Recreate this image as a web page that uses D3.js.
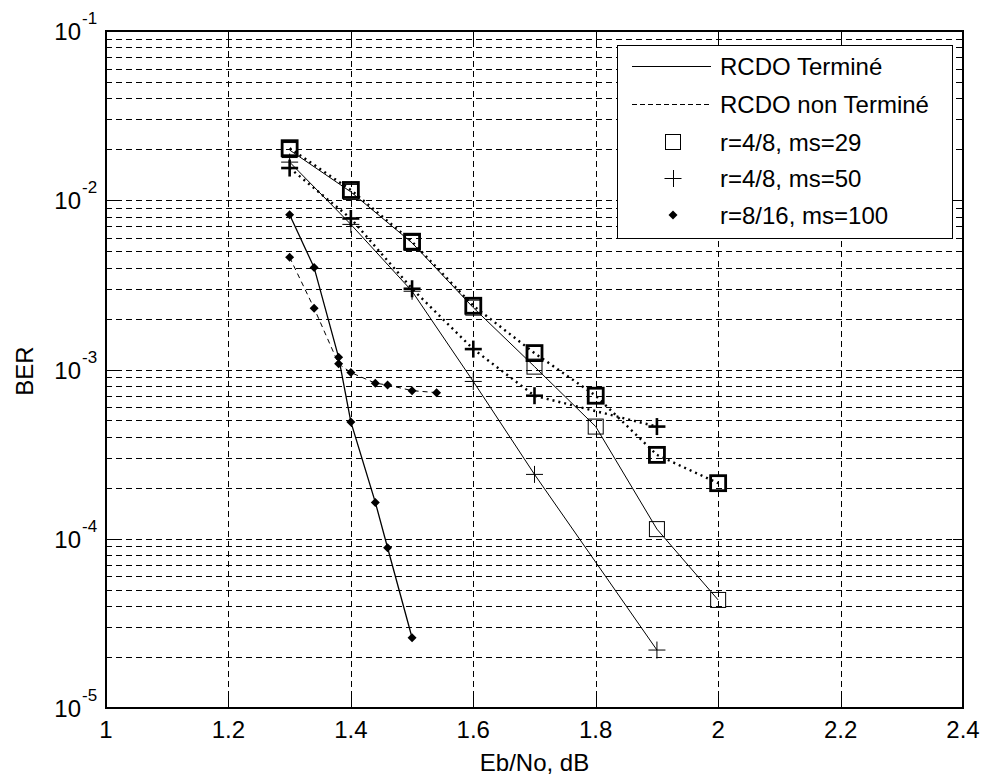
<!DOCTYPE html>
<html><head><meta charset="utf-8">
<script src="https://cdn.jsdelivr.net/npm/d3@7"></script>
<style>
html,body{margin:0;padding:0;background:#fff;}
svg{display:block;font-family:"Liberation Sans",Arial,sans-serif;}
</style></head>
<body><svg id="chart" width="982" height="775"></svg>
<script>
// ---- data ----
const xTicks = [1, 1.2, 1.4, 1.6, 1.8, 2, 2.2, 2.4];
const xTickLabels = ["1", "1.2", "1.4", "1.6", "1.8", "2", "2.2", "2.4"];
const yExponents = [-5, -4, -3, -2, -1];

const xSquare = [1.3, 1.4, 1.5, 1.6, 1.7, 1.8, 1.9, 2.0];
const squareTerm = [0.0198, 0.0112, 0.0056, 0.00232, 0.00104, 0.00046, 0.000114, 0.0000435];
const squareNon  = [0.0203, 0.0115, 0.00569, 0.00238, 0.00125, 0.0007, 0.000313, 0.000213];

const xPlus = [1.3, 1.4, 1.5, 1.6, 1.7, 1.9];
const plusTerm = [0.0168, 0.0072, 0.0029, 0.00085, 0.00024, 0.000022];
const plusNon  = [0.0155, 0.0078, 0.0030, 0.00132, 0.0007, 0.00046];

const xDiaTerm = [1.3, 1.34, 1.38, 1.4, 1.44, 1.46, 1.5];
const diaTerm  = [0.0082, 0.0040, 0.00118, 0.00049, 0.000164, 0.0000885, 0.000026];
const xDiaNon  = [1.3, 1.34, 1.38, 1.4, 1.44, 1.46, 1.5, 1.54];
const diaNon   = [0.0046, 0.0023, 0.00108, 0.00096, 0.00083, 0.00081, 0.00075, 0.00073];

const legendLabels = ["RCDO Terminé", "RCDO non Terminé", "r=4/8, ms=29", "r=4/8, ms=50", "r=8/16, ms=100"];

// ---- layout ----
const L = 106, R = 963, T = 31, B = 708;
const svg = d3.select("#chart");
const x = d3.scaleLinear().domain([1, 2.4]).range([L, R]);
const y = d3.scaleLog().domain([1e-5, 1e-1]).range([B, T]);
const px = v => Math.round(v) + 0.5;

// grid
const g = svg.append("g").attr("shape-rendering", "crispEdges");
const minorVals = [];
for (let e = -5; e <= -2; e++) for (let k = 1; k <= 9; k++) minorVals.push(k * Math.pow(10, e));
g.selectAll("line.hg").data(minorVals.filter(v => v > 1e-5)).enter().append("line")
  .attr("x1", L).attr("x2", R).attr("y1", d => px(y(d))).attr("y2", d => px(y(d)))
  .attr("stroke", "#000").attr("stroke-width", 1).attr("stroke-dasharray", "6,4");
g.selectAll("line.vg").data(xTicks.slice(1, -1)).enter().append("line")
  .attr("x1", d => px(x(d))).attr("x2", d => px(x(d))).attr("y1", T).attr("y2", B)
  .attr("stroke", "#000").attr("stroke-width", 1).attr("stroke-dasharray", "6,4");

// ticks (inward, all sides)
const tk = svg.append("g").attr("stroke", "#000").attr("stroke-width", 1).attr("shape-rendering", "crispEdges");
xTicks.forEach(v => {
  tk.append("line").attr("x1", px(x(v))).attr("x2", px(x(v))).attr("y1", B).attr("y2", B - 11);
  tk.append("line").attr("x1", px(x(v))).attr("x2", px(x(v))).attr("y1", T).attr("y2", T + 11);
});
minorVals.concat([1e-1]).forEach(v => {
  const major = Math.abs(Math.log10(v) - Math.round(Math.log10(v))) < 1e-9;
  const len = major ? 10 : 5;
  tk.append("line").attr("x1", L).attr("x2", L + len).attr("y1", px(y(v))).attr("y2", px(y(v)));
  tk.append("line").attr("x1", R).attr("x2", R - len).attr("y1", px(y(v))).attr("y2", px(y(v)));
});

// series
const line = (xs) => d3.line().x((d, i) => x(xs[i])).y(d => y(d));
function path(xs, vals, w, dash) {
  svg.append("path").datum(vals).attr("d", line(xs)).attr("fill", "none")
    .attr("stroke", "#000").attr("stroke-width", w).attr("stroke-dasharray", dash || null);
}
path(xSquare, squareTerm, 1);
path(xPlus, plusTerm, 1);
path(xDiaTerm, diaTerm, 1.3);
path(xSquare, squareNon, 2.4, "2,4");
path(xPlus, plusNon, 2.4, "2,4");
path(xDiaNon, diaNon, 1, "5,4");

function squares(xs, vals, w, s) {
  svg.append("g").selectAll("rect").data(vals).enter().append("rect")
    .attr("x", (d, i) => x(xs[i]) - s / 2).attr("y", d => y(d) - s / 2)
    .attr("width", s).attr("height", s).attr("fill", "none").attr("stroke", "#000").attr("stroke-width", w);
}
function pluses(xs, vals, w, s) {
  const gg = svg.append("g").attr("stroke", "#000").attr("stroke-width", w);
  vals.forEach((d, i) => {
    const cx = x(xs[i]), cy = y(d);
    gg.append("line").attr("x1", cx - s).attr("x2", cx + s).attr("y1", cy).attr("y2", cy);
    gg.append("line").attr("x1", cx).attr("x2", cx).attr("y1", cy - s).attr("y2", cy + s);
  });
}
function diamonds(xs, vals, s) {
  svg.append("g").selectAll("path").data(vals).enter().append("path")
    .attr("d", (d, i) => { const cx = x(xs[i]), cy = y(d);
      return `M${cx},${cy - s}L${cx + s},${cy}L${cx},${cy + s}L${cx - s},${cy}Z`; })
    .attr("fill", "#000");
}
squares(xSquare, squareTerm, 1, 15);
squares(xSquare, squareNon, 2.8, 15);
pluses(xPlus, plusTerm, 1, 8.5);
pluses(xPlus, plusNon, 2.6, 8.5);
diamonds(xDiaTerm, diaTerm, 4.5);
diamonds(xDiaNon, diaNon, 4.5);

// frame
svg.append("rect").attr("x", L).attr("y", T).attr("width", R - L).attr("height", B - T)
  .attr("fill", "none").attr("stroke", "#000").attr("stroke-width", 2).attr("shape-rendering", "crispEdges");

// tick labels
const fs = 24;
svg.append("g").selectAll("text").data(xTicks).enter().append("text")
  .attr("x", d => x(d)).attr("y", 738).attr("text-anchor", "middle")
  .attr("font-size", fs).attr("fill", "#000").text((d, i) => xTickLabels[i]);
yExponents.forEach(e => {
  const yy = y(Math.pow(10, e));
  svg.append("text").attr("x", 81).attr("y", yy + 9).attr("text-anchor", "end")
    .attr("font-size", fs).attr("fill", "#000").text("10");
  svg.append("text").attr("x", 82).attr("y", yy - 7).attr("text-anchor", "start")
    .attr("font-size", 17).attr("fill", "#000").text("-" + Math.abs(e));
});

// axis labels
svg.append("text").attr("x", x(1.7)).attr("y", 771).attr("text-anchor", "middle")
  .attr("font-size", fs).attr("fill", "#000").text("Eb/No, dB");
svg.append("text").attr("transform", "translate(33,371) rotate(-90)").attr("text-anchor", "middle")
  .attr("font-size", fs).attr("fill", "#000").text("BER");

// legend
const lg = svg.append("g");
lg.append("rect").attr("x", 617.5).attr("y", 45.5).attr("width", 335).attr("height", 193)
  .attr("fill", "#fff").attr("stroke", "#000").attr("stroke-width", 1).attr("shape-rendering", "crispEdges");
const rowY = [66.5, 104.5, 142, 178.5, 215];
lg.append("line").attr("x1", 632).attr("x2", 711).attr("y1", rowY[0]).attr("y2", rowY[0])
  .attr("stroke", "#000").attr("stroke-width", 1);
lg.append("line").attr("x1", 632).attr("x2", 711).attr("y1", rowY[1]).attr("y2", rowY[1])
  .attr("stroke", "#000").attr("stroke-width", 1).attr("stroke-dasharray", "5,3");
const mx = 673;
lg.append("rect").attr("x", mx - 7.5).attr("y", rowY[2] - 7.5).attr("width", 15).attr("height", 15)
  .attr("fill", "none").attr("stroke", "#000").attr("stroke-width", 1);
lg.append("line").attr("x1", mx - 8.5).attr("x2", mx + 8.5).attr("y1", rowY[3]).attr("y2", rowY[3]).attr("stroke", "#000");
lg.append("line").attr("x1", mx + 0.5).attr("x2", mx + 0.5).attr("y1", rowY[3] - 8.5).attr("y2", rowY[3] + 8.5).attr("stroke", "#000");
lg.append("path").attr("d", `M${mx},${rowY[4] - 4.5}L${mx + 4.5},${rowY[4]}L${mx},${rowY[4] + 4.5}L${mx - 4.5},${rowY[4]}Z`).attr("fill", "#000");
lg.selectAll("text").data(legendLabels).enter().append("text")
  .attr("x", 720).attr("y", (d, i) => rowY[i] + 8.5).attr("font-size", fs).attr("fill", "#000").text(d => d);
</script></body></html>
